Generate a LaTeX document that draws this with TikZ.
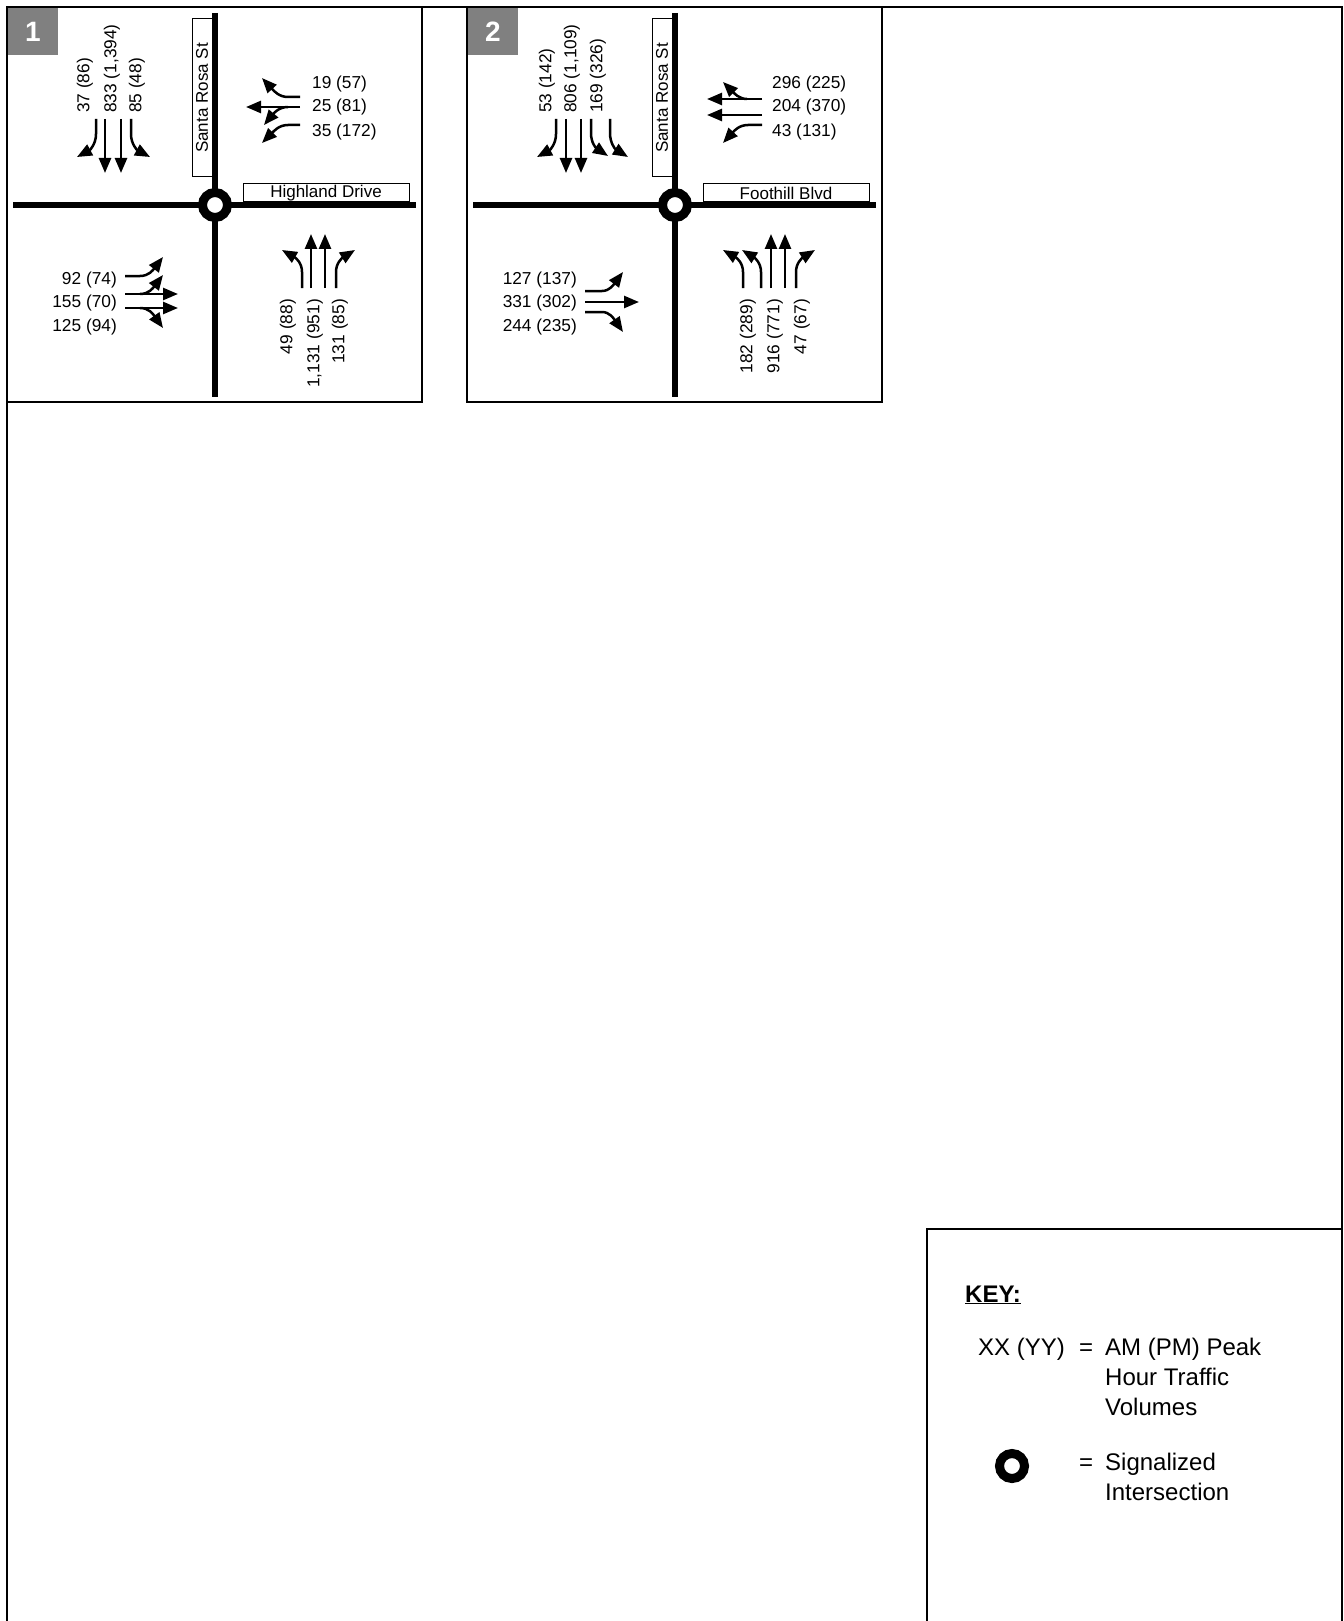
\documentclass[tikz,border=0pt]{standalone}
\usepackage{fontspec}
\setmainfont{Liberation Sans}
\usetikzlibrary{arrows.meta}
\definecolor{badgeGray}{RGB}{128,128,128}
\tikzset{
  frm/.style={line width=2.3pt},
  road/.style={line width=6.5pt},
  mv/.style={line width=2.5pt,-{Triangle[length=15pt,width=12pt]}},
  vol/.style={font=\fontsize{17.3}{20}\selectfont,inner sep=0pt},
  sig/.style={circle,draw,line width=9pt,fill=white,minimum size=25pt,inner sep=0pt},
  namebox/.style={draw,fill=white,line width=1pt,inner sep=0pt,font=\fontsize{17}{20}\selectfont},
  badge/.style={fill=badgeGray,text=white,font=\fontsize{28}{30}\selectfont\bfseries,
                minimum width=50pt,minimum height=47pt,inner sep=0pt},
  keytxt/.style={font=\fontsize{24}{30}\selectfont,inner sep=0pt,anchor=base west},
}
\begin{document}
\begin{tikzpicture}[x=1pt,y=-1pt]
  \useasboundingbox (0,0) rectangle (1343,1621);
  \draw[frm] (7,1621) -- (7,7) -- (1342,7) -- (1342,1621);
  \foreach \n/\dx/\ew in {1/0/Highland Drive,2/460/Foothill Blvd}{
    \begin{scope}[xshift=\dx pt]
      \draw[frm] (7,7) rectangle (422,402);
      \node[badge] (b\n) at (33,31.6) {\n};
      \draw[road] (215,13) -- (215,397);
      \draw[road] (13,205) -- (416,205);
      \node[sig] (s\n) at (215,205) {};
      \node[namebox,rotate=90,minimum width=158pt,minimum height=20pt] (ns\n) at (202,98) {Santa Rosa St};
      \node[namebox,minimum width=166pt,minimum height=18pt] (ew\n) at (326,193) {\ew};
    \end{scope}
  }
  \node[vol,rotate=90,anchor=west] (s1l) at (85,113) {37 (86)};
  \node[vol,rotate=90,anchor=west] (s1t) at (112,113) {833 (1,394)};
  \node[vol,rotate=90,anchor=west] (s1r) at (137,113) {85 (48)};
  \draw[mv] (96,119) -- (96,134) .. controls (96,144) and (90,150) .. (77,157);
  \draw[mv] (105,119) -- (105,173);
  \draw[mv] (121,119) -- (121,173);
  \draw[mv] (131,119) -- (131,134) .. controls (131,144) and (137,150) .. (150,157);
  \node[vol,anchor=west] (w1r) at (312,84) {19 (57)};
  \node[vol,anchor=west] (w1t) at (312,107.5) {25 (81)};
  \node[vol,anchor=west] (w1l) at (312,132) {35 (172)};
  \draw[mv] (300,97) -- (288,97) .. controls (279,97) and (274,91) .. (262,78);
  \draw[mv] (300,107) -- (246,107);
  \draw[mv] (288,107) .. controls (279,107) and (274,113) .. (264,125);
  \draw[mv] (300,125) -- (288,125) .. controls (279,125) and (274,131) .. (262,143);
  \node[vol,anchor=east] (e1l) at (117,280) {92 (74)};
  \node[vol,anchor=east] (e1t) at (117,303.5) {155 (70)};
  \node[vol,anchor=east] (e1r) at (117,327) {125 (94)};
  \draw[mv] (125,276) -- (140,276) .. controls (149,276) and (153,270) .. (163,257);
  \draw[mv] (125,294) -- (178,294);
  \draw[mv] (140,294) .. controls (149,294) and (153,288) .. (163,275);
  \draw[mv] (125,308) -- (178,308);
  \draw[mv] (140,308) .. controls (149,308) and (153,314) .. (163,328);
  \node[vol,rotate=90,anchor=east] (n1l) at (288,299) {49 (88)};
  \node[vol,rotate=90,anchor=east] (n1t) at (315,299) {1,131 (951)};
  \node[vol,rotate=90,anchor=east] (n1r) at (340,299) {131 (85)};
  \draw[mv] (302,288) -- (302,272) .. controls (302,263) and (296,258) .. (282,250);
  \draw[mv] (311,288) -- (311,234);
  \draw[mv] (325,288) -- (325,234);
  \draw[mv] (336,288) -- (336,272) .. controls (336,263) and (342,258) .. (355,250);
  \begin{scope}[xshift=460pt]
    \node[vol,rotate=90,anchor=west] (s2l) at (87,113) {53 (142)};
    \node[vol,rotate=90,anchor=west] (s2t) at (112,113) {806 (1,109)};
    \node[vol,rotate=90,anchor=west] (s2r) at (138,113) {169 (326)};
    \draw[mv] (96,119) -- (96,134) .. controls (96,144) and (90,150) .. (77,157);
    \draw[mv] (106,119) -- (106,173);
    \draw[mv] (121,119) -- (121,173);
    \draw[mv] (131,119) -- (131,133) .. controls (131,143) and (136,148) .. (148,156);
    \draw[mv] (150,119) -- (150,133) .. controls (150,143) and (155,149) .. (168,157);
    \node[vol,anchor=west] (w2r) at (312,84) {296 (225)};
    \node[vol,anchor=west] (w2t) at (312,107.5) {204 (370)};
    \node[vol,anchor=west] (w2l) at (312,132) {43 (131)};
    \draw[mv] (302,99) -- (247,99);
    \draw[mv] (287,99) .. controls (279,99) and (274,93) .. (263,82);
    \draw[mv] (302,115) -- (247,115);
    \draw[mv] (302,125) -- (288,125) .. controls (279,125) and (274,131) .. (263,143);
    \node[vol,anchor=east] (e2l) at (117,280) {127 (137)};
    \node[vol,anchor=east] (e2t) at (117,303.5) {331 (302)};
    \node[vol,anchor=east] (e2r) at (117,327) {244 (235)};
    \draw[mv] (125,291) -- (142,291) .. controls (150,291) and (154,284) .. (163,272);
    \draw[mv] (125,302) -- (179,302);
    \draw[mv] (125,312) -- (142,312) .. controls (150,312) and (154,319) .. (163,332);
    \node[vol,rotate=90,anchor=east] (n2l) at (288,299) {182 (289)};
    \node[vol,rotate=90,anchor=east] (n2t) at (315,299) {916 (771)};
    \node[vol,rotate=90,anchor=east] (n2r) at (342,299) {47 (67)};
    \draw[mv] (283,288) -- (283,272) .. controls (283,263) and (277,258) .. (263,250);
    \draw[mv] (301,288) -- (301,272) .. controls (301,263) and (295,258) .. (282,250);
    \draw[mv] (311,288) -- (311,234);
    \draw[mv] (325,288) -- (325,234);
    \draw[mv] (336,288) -- (336,272) .. controls (336,263) and (342,258) .. (355,250);
  \end{scope}
  \draw[frm] (927,1621) -- (927,1229) -- (1342,1229);
  \node[keytxt,font=\fontsize{24}{30}\selectfont\bfseries] (kh) at (965,1302) {\underline{KEY:}};
  \node[keytxt] (kx) at (978,1355) {XX (YY)};
  \node[keytxt] (ke1) at (1079,1355) {=};
  \node[keytxt] (kv1) at (1105,1355) {AM (PM) Peak};
  \node[keytxt] (kv2) at (1105,1385) {Hour Traffic};
  \node[keytxt] (kv3) at (1105,1415) {Volumes};
  \node[sig] (ks) at (1012,1466) {};
  \node[keytxt] (ke2) at (1079,1470) {=};
  \node[keytxt] (kd1) at (1105,1470) {Signalized};
  \node[keytxt] (kd2) at (1105,1500) {Intersection};
\end{tikzpicture}
\end{document}
